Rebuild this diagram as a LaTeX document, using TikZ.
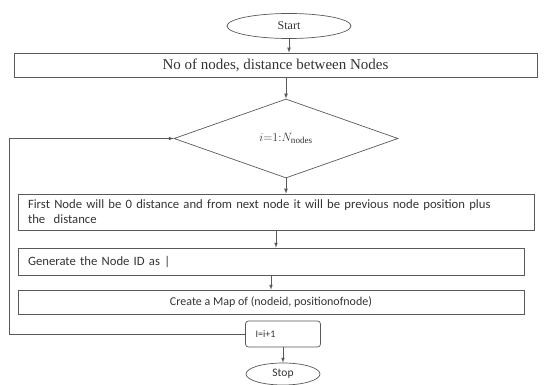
\documentclass[tikz,border=0pt]{standalone}
\usepackage{fontspec}
\setmainfont{Liberation Serif}
\newfontfamily\calfont{Carlito}
\usetikzlibrary{shapes.geometric}

\tikzset{
  line/.style={draw=black!65,line width=0.7pt},
  flow/.style={line,-latex},
  box/.style={line,rectangle,inner sep=0pt,text=black!80,font=\calfont\fontsize{12}{15}\selectfont},
  term/.style={line,ellipse,inner sep=0pt,text=black!80},
}

\begin{document}
\begin{tikzpicture}[x=1pt,y=-1pt]
\useasboundingbox (0,0) rectangle (544,385);
\node[term,minimum width=124pt,minimum height=25pt,font=\fontsize{12}{14}\selectfont] (start) at (289,26) {Start};
\node[box,minimum width=523pt,minimum height=24pt,font=\fontsize{15}{18}\selectfont] (input) at (275.5,65) {No of nodes, distance between Nodes};
\node[line,diamond,minimum width=224pt,minimum height=79pt,inner sep=0pt,text=black!80] (loop) at (286,138.5) {\fontsize{13}{16}\selectfont$i{=}1{:}N_{\mathrm{nodes}}$};

\node[box,minimum width=516pt,minimum height=36pt,text width=496pt,align=left,font=\calfont\fontsize{12.7}{15}\selectfont] (posn) at (276,212) {First Node will be 0 distance and from next node it will be previous node position plus\\the\ \ distance};
\node[box,minimum width=506pt,minimum height=27pt,text width=486pt,align=left,font=\calfont\fontsize{12.7}{15}\selectfont] (genid) at (271,261.5) {Generate the Node ID as |};
\node[box,minimum width=506pt,minimum height=24pt] (mapbox) at (271,302) {Create a Map of (nodeid, positionofnode)};

\node[box,rounded corners=3pt,minimum width=75pt,minimum height=26pt,text width=55pt,align=left,font=\calfont\fontsize{10}{12}\selectfont] (incr) at (283,334) {I=i+1};
\node[term,minimum width=74pt,minimum height=22pt,font=\calfont\fontsize{11.5}{14}\selectfont] (stop) at (283,374) {Stop};

\coordinate (back) at (9,0);
\draw[flow] (start.south) -- (start.south |- input.north);
\draw[flow] (input.south -| loop.north) -- (loop.north);
\draw[flow] (loop.south) -- (loop.south |- posn.north);
\draw[flow] (posn.south) -- (posn.south |- genid.north);
\draw[flow] (genid.south) -- (genid.south |- mapbox.north);
\draw[flow] (incr.south) -- (stop.north);
\draw[flow] (incr.west) -- (back |- incr.west) -- (back |- loop.west) -- (loop.west);
\end{tikzpicture}
\end{document}
